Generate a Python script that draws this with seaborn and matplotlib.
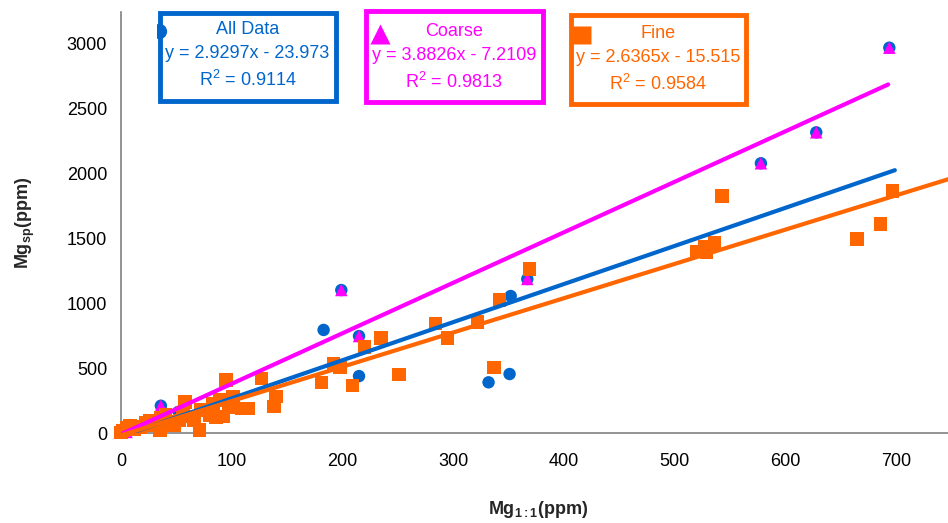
import numpy as np
import pandas as pd
import matplotlib
matplotlib.use("Agg")
import matplotlib.pyplot as plt
import seaborn as sns
from matplotlib.patches import Rectangle
from matplotlib.lines import Line2D

# ---------------- data ----------------
fine_x = [0, 2, 5, 8, 12, 17, 22, 26, 30, 35, 36, 40, 44, 48, 53, 56, 58, 62, 66, 71,
          72, 80, 83, 86, 89, 92, 95, 97, 101, 109, 115, 127, 138, 140,
          181, 192, 198, 209, 220, 235, 251, 284, 295, 322, 337, 342, 369,
          520, 527, 529, 536, 543, 665, 686, 697]
fine_y = [5, 20, 40, 60, 35, 50, 80, 100, 60, 25, 120, 140, 85, 60, 100, 160, 240, 130, 100, 25,
          180, 140, 230, 120, 256, 128, 410, 200, 282, 192, 192, 423, 205, 282,
          392, 533, 508, 366, 662, 735, 451, 846, 735, 856, 505, 1025, 1264,
          1397, 1435, 1390, 1462, 1825, 1495, 1608, 1864]

coarse_x = [5, 10, 36, 199, 215, 367, 578, 628, 694]
coarse_y = [10, 30, 212, 1102, 748, 1187, 2077, 2315, 2966]

other_x = [52, 183, 215, 332, 351, 352]
other_y = [166, 795, 440, 392, 456, 1056]

all_x = coarse_x + fine_x + other_x
all_y = coarse_y + fine_y + other_y

# trend line coefficients (slope, intercept) and x extents
all_fit = (2.9297, -23.973)
coarse_fit = (3.8826, -7.2109)
fine_fit = (2.6365, -15.515)
all_range = [11, 699]
coarse_range = [0, 693]
fine_range = [0, 760]

x_ticks = [0, 100, 200, 300, 400, 500, 600, 700]
y_ticks = [0, 500, 1000, 1500, 2000, 2500, 3000]

labels = ["All Data", "Coarse", "Fine"]
eq_texts = ["y = 2.9297x - 23.973", "y = 3.8826x - 7.2109", "y = 2.6365x - 15.515"]
r2_texts = ["R$^2$ = 0.9114", "R$^2$ = 0.9813", "R$^2$ = 0.9584"]

BLUE = "#0066CC"
MAG = "#FF00FF"
ORANGE = "#FF6600"

# ---------------- style ----------------
sns.set_style("white")
plt.rcParams["font.family"] = ["Liberation Sans", "DejaVu Sans"]
plt.rcParams["mathtext.fontset"] = "custom"
plt.rcParams["mathtext.rm"] = "Liberation Sans"
plt.rcParams["mathtext.it"] = "Liberation Sans:italic"
plt.rcParams["mathtext.bf"] = "Liberation Sans:bold"
plt.rcParams["mathtext.default"] = "regular"

W, H = 948, 523
fig = plt.figure(figsize=(W / 100, H / 100), dpi=100)
ax = fig.add_axes([121 / W, 1 - 433.3 / H, (948 - 121) / W, (433.3 - 11.7) / H])

df_all = pd.DataFrame({"x": all_x, "y": all_y})
df_c = pd.DataFrame({"x": coarse_x, "y": coarse_y})
df_f = pd.DataFrame({"x": fine_x, "y": fine_y})

sns.scatterplot(data=df_all, x="x", y="y", ax=ax, marker="o", s=80, color=BLUE,
                edgecolor="none", clip_on=False, zorder=3)
sns.scatterplot(data=df_c, x="x", y="y", ax=ax, marker="^", s=80, color=MAG,
                edgecolor="none", clip_on=False, zorder=4)
sns.scatterplot(data=df_f, x="x", y="y", ax=ax, marker="s", s=95, color=ORANGE,
                edgecolor="none", clip_on=False, zorder=5)

def fit_df(fit, rng):
    xs = np.array(rng, dtype=float)
    return pd.DataFrame({"x": xs, "y": fit[0] * xs + fit[1]})

sns.lineplot(data=fit_df(all_fit, all_range), x="x", y="y", ax=ax, color=BLUE, lw=3,
             zorder=6, solid_capstyle="round")
sns.lineplot(data=fit_df(coarse_fit, coarse_range), x="x", y="y", ax=ax, color=MAG, lw=3,
             zorder=7, solid_capstyle="round")
sns.lineplot(data=fit_df(fine_fit, fine_range), x="x", y="y", ax=ax, color=ORANGE, lw=3,
             zorder=8, solid_capstyle="round")

ax.set_xlim(0, 747)
ax.set_ylim(0, 3243)
ax.set_xticks(x_ticks)
ax.set_yticks(y_ticks)
for s in ["top", "right"]:
    ax.spines[s].set_visible(False)
for s in ["left", "bottom"]:
    ax.spines[s].set_color("#808080")
    ax.spines[s].set_linewidth(1.2)
ax.tick_params(axis="both", direction="out", length=5, width=1, color="black",
               labelsize=13, labelcolor="black")
ax.tick_params(axis="x", pad=9)
ax.tick_params(axis="y", pad=5)

ax.set_xlabel(r"$\mathbf{Mg_{1{:}1}(ppm)}$", fontsize=13)
ax.set_ylabel(r"$\mathbf{Mg_{sp}(ppm)}$", fontsize=13)
ax.xaxis.set_label_coords(0.504, -0.155)
ax.yaxis.set_label_coords(-0.101, 0.5)

# ---------------- legend-like boxes ----------------
def fx(px):
    return px / W

def fy(py):
    return 1 - py / H

boxes = [(159.5, 12.5, 335.5, 100.5), (365.5, 11.5, 542.5, 101.5), (570.5, 15, 745.5, 104)]
colors = [BLUE, MAG, ORANGE]
text_rows = [(30, 53, 80), (31, 55, 82), (33, 57, 84)]
for (x0, y0, x1, y1), col, lab, eq, r2, rows in zip(boxes, colors, labels, eq_texts, r2_texts, text_rows):
    fig.add_artist(Rectangle((fx(x0), fy(y1)), fx(x1) - fx(x0), (y1 - y0) / H,
                             transform=fig.transFigure, fill=False, edgecolor=col, lw=3.5))
    cx = fx((x0 + x1) / 2)
    fig.text(cx, fy(rows[0]), lab, color=col, fontsize=13, ha="center", va="center")
    fig.text(cx, fy(rows[1]), eq, color=col, fontsize=13, ha="center", va="center")
    fig.text(cx, fy(rows[2]), r2, color=col, fontsize=13, ha="center", va="center")

# icons
clip_rect = Rectangle((fx(157), 0), 1, 1, transform=fig.transFigure, visible=False)
fig.add_artist(clip_rect)
circ = Line2D([fx(158.5)], [fy(31)], marker="o", markersize=11, color=BLUE,
              markeredgecolor="none", transform=fig.transFigure)
fig.add_artist(circ)
circ.set_clip_path(clip_rect)
fig.add_artist(Line2D([fx(379.5)], [fy(34)], marker="^", markersize=14, color=MAG,
                      markeredgecolor="none", transform=fig.transFigure))
fig.add_artist(Line2D([fx(581.5)], [fy(35)], marker="s", markersize=13, color=ORANGE,
                      markeredgecolor="none", transform=fig.transFigure))

fig.savefig("out.png", dpi=100)
